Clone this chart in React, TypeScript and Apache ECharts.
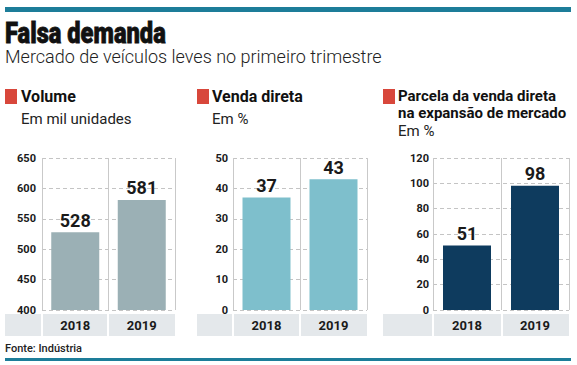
import React, { useEffect, useRef } from "react";
import * as echarts from "echarts";

const categories = ["2018", "2019"];
const volume = [528, 581];
const vendaDireta = [37, 43];
const parcela = [51, 98];

const volumeAxis = { min: 400, max: 650, interval: 50 };
const vendaAxis = { min: 0, max: 50, interval: 10 };
const parcelaAxis = { min: 0, max: 120, interval: 20 };

const SANS = "'Roboto', 'Noto Sans', sans-serif";

export default function App() {
  const ref = useRef<HTMLDivElement>(null);
  useEffect(() => {
    document.body.style.margin = "0";
    const chart = echarts.init(ref.current!, undefined, { renderer: "svg" });
    const panels = [
      { left: 42, width: 133, data: volume, axis: volumeAxis, color: "#9bb0b5", labelMargin: 6 },
      { left: 233, width: 134, data: vendaDireta, axis: vendaAxis, color: "#7ebfcc", labelMargin: 5 },
      { left: 433, width: 136, data: parcela, axis: parcelaAxis, color: "#0e3b5e", labelMargin: 4 },
    ];
    const strips = [
      { x: 5, a: 42, b: 108, c: 175 },
      { x: 197, a: 233, b: 300, c: 367 },
      { x: 383, a: 433, b: 502, c: 569 },
    ];
    const graphic: any[] = [
      { type: "rect", shape: { x: 5, y: 7, width: 566, height: 5 }, style: { fill: "#1d7d99" } },
      { type: "rect", shape: { x: 5, y: 358, width: 566, height: 3 }, style: { fill: "#1d7d99" } },
      {
        type: "text", x: 5, y: 18, scaleX: 0.79,
        style: { text: "Falsa demanda", font: `900 30px ${SANS}`, fill: "#111", stroke: "#111", lineWidth: 0.8 },
      },
      {
        type: "text", x: 5, y: 47,
        style: { text: "Mercado de veículos leves no primeiro trimestre", font: `300 18px ${SANS}`, fill: "#222" },
      },
      { type: "rect", shape: { x: 5, y: 89, width: 12, height: 15 }, style: { fill: "#d8473b" } },
      { type: "text", x: 21, y: 88, style: { text: "Volume", font: `bold 16px ${SANS}`, fill: "#111" } },
      { type: "text", x: 21, y: 111, style: { text: "Em mil unidades", font: `15px ${SANS}`, fill: "#222" } },
      { type: "rect", shape: { x: 197, y: 89, width: 12, height: 15 }, style: { fill: "#d8473b" } },
      { type: "text", x: 212, y: 88, style: { text: "Venda direta", font: `bold 16px ${SANS}`, fill: "#111" } },
      { type: "text", x: 212, y: 111, style: { text: "Em %", font: `15px ${SANS}`, fill: "#222" } },
      { type: "rect", shape: { x: 383, y: 89, width: 12, height: 15 }, style: { fill: "#d8473b" } },
      { type: "text", x: 398, y: 88, style: { text: "Parcela da venda direta", font: `bold 15px ${SANS}`, fill: "#111" } },
      { type: "text", x: 398, y: 105, style: { text: "na expansão de mercado", font: `bold 15px ${SANS}`, fill: "#111" } },
      { type: "text", x: 398, y: 123, style: { text: "Em %", font: `15px ${SANS}`, fill: "#222" } },
      { type: "text", x: 5, y: 343, style: { text: "Fonte: Indústria", font: `500 11px ${SANS}`, fill: "#222" } },
    ];
    strips.forEach((s) => {
      graphic.push({ type: "rect", z: -10, shape: { x: s.x, y: 314, width: s.a - s.x - 1, height: 22 }, style: { fill: "#e4e8eb" } });
      graphic.push({ type: "rect", z: -10, shape: { x: s.a + 1, y: 314, width: s.b - s.a - 2, height: 22 }, style: { fill: "#e4e8eb" } });
      graphic.push({ type: "rect", z: -10, shape: { x: s.b + 1, y: 314, width: s.c - s.b - 1, height: 22 }, style: { fill: "#e4e8eb" } });
    });

    chart.setOption({
      animation: false,
      backgroundColor: "#fff",
      grid: panels.map((p) => ({ left: p.left, width: p.width, top: 158, height: 152 })),
      xAxis: panels.map((p, i) => ({
        type: "category",
        gridIndex: i,
        data: categories,
        boundaryGap: true,
        axisLine: { show: false },
        axisTick: { show: false },
        splitLine: { show: true, lineStyle: { color: "#c9c9c9", width: 1 } },
        axisLabel: { margin: 9, fontSize: 13, fontWeight: "bold", color: "#1a1a1a", fontFamily: SANS },
      })),
      yAxis: panels.map((p, i) => ({
        type: "value",
        gridIndex: i,
        min: p.axis.min,
        max: p.axis.max,
        interval: p.axis.interval,
        axisLine: { show: false },
        axisTick: { show: false },
        splitLine: { show: true, lineStyle: { color: "#c4c4c4", type: [4, 3], width: 1 } },
        axisLabel: { margin: p.labelMargin, fontSize: 11, fontWeight: "bold", color: "#1a1a1a", fontFamily: SANS },
      })),
      series: panels.map((p, i) => ({
        type: "bar",
        xAxisIndex: i,
        yAxisIndex: i,
        data: p.data,
        barWidth: 48,
        itemStyle: { color: p.color },
        label: { show: true, position: "top", distance: 3, fontSize: 18, fontWeight: "bold", color: "#1a1a1a", fontFamily: SANS },
      })),
      graphic,
    });
    return () => chart.dispose();
  }, []);
  return <div ref={ref} style={{ width: 577, height: 365 }} />;
}
